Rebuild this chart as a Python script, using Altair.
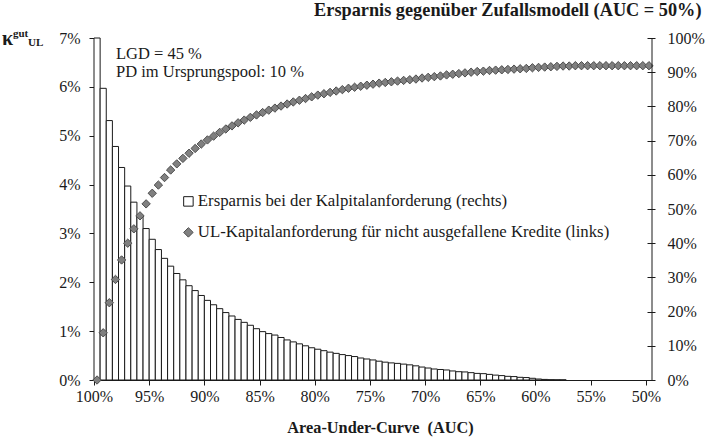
import altair as alt
import pandas as pd

# ---------------- data ----------------
x_tick_values = [100, 95, 90, 85, 80, 75, 70, 65, 60, 55, 50]
left_tick_values = [0, 1, 2, 3, 4, 5, 6, 7]
right_tick_values = [0, 10, 20, 30, 40, 50, 60, 70, 80, 90, 100]

n_categories = 91          # category slots on the AUC axis (100% .. 50%)
step = 5 / 9               # AUC width of one category slot

# bars: kappa_UL (left axis, in %)
kappa = [7.00, 5.97, 5.31, 4.78, 4.35, 3.97, 3.64, 3.36, 3.10, 2.88,
         2.67, 2.49, 2.33, 2.18, 2.05, 1.93, 1.83, 1.73, 1.63, 1.54,
         1.46, 1.38, 1.31, 1.24, 1.18, 1.12, 1.05, 0.99, 0.95, 0.92,
         0.87, 0.82, 0.78, 0.74, 0.70, 0.66, 0.63, 0.60, 0.57, 0.545,
         0.52, 0.50, 0.48, 0.45, 0.43, 0.41, 0.385, 0.365, 0.35, 0.34,
         0.325, 0.31, 0.29, 0.265, 0.245, 0.225, 0.215, 0.205, 0.185, 0.17,
         0.165, 0.15, 0.135, 0.13, 0.115, 0.10, 0.09, 0.075, 0.07, 0.055,
         0.05, 0.035, 0.02, 0.012, 0.006, 0.004, 0.003]

# diamonds: savings vs random model (right axis, in %)
ersparnis = [0.0, 13.8, 22.6, 29.4, 35.1, 40.0, 44.2, 48.0, 51.5, 54.6,
             57.0, 59.2, 61.4, 63.2, 64.8, 66.3, 67.7, 69.0, 70.2, 71.3,
             72.4, 73.4, 74.3, 75.2, 76.0, 76.8, 77.5, 78.2, 78.9, 79.5,
             80.1, 80.7, 81.3, 81.8, 82.3, 82.8, 83.3, 83.7, 84.1, 84.5,
             84.9, 85.3, 85.6, 85.9, 86.2, 86.5, 86.8, 87.0, 87.2, 87.4,
             87.6, 87.8, 88.0, 88.3, 88.5, 88.7, 88.9, 89.2, 89.4, 89.6,
             89.8, 90.0, 90.2, 90.3, 90.5, 90.6, 90.7, 90.8, 90.9, 91.0,
             91.1, 91.3, 91.4, 91.5, 91.6, 91.7, 91.8, 91.8, 91.9, 91.9,
             91.9, 91.9, 91.9, 91.9, 91.9, 91.9, 91.9, 91.9, 91.9, 91.9, 91.9]

name_sq = "Ersparnis bei der Kalpitalanforderung (rechts)"
name_di = "UL-Kapitalanforderung für nicht ausgefallene Kredite (links)"
series_names = [name_sq, name_di]

annot_lines = ["LGD = 45 %", "PD im Ursprungspool: 10 %"]

# ---------------- tables ----------------
bars_df = pd.DataFrame({
    "x0": [100 - k * step for k in range(len(kappa))],
    "x1": [100 - (k + 1) * step for k in range(len(kappa))],
    "kappa": kappa,
    "base": 0.0,
    "series": name_sq,
})
pts_df = pd.DataFrame({
    "auc": [100 - (k + 0.5) * step for k in range(len(ersparnis))],
    "value": ersparnis,
    "series": name_di,
})

W, H = 558, 342
FONT = "Liberation Serif"
INK = "#1a1a1a"

xscale = alt.Scale(domain=[100, 100 - n_categories * step], nice=False, zero=False)

fill_scale = alt.Scale(domain=series_names, range=["white", "#808080"])
stroke_scale = alt.Scale(domain=series_names, range=[INK, "#4d4d4d"])
shape_scale = alt.Scale(domain=series_names, range=["square", "diamond"])

legend = alt.Legend(
    title=None, orient="none", legendX=86, legendY=155,
    labelFont=FONT, labelFontSize=16.8, labelColor=INK, labelLimit=0,
    symbolSize=90, symbolStrokeWidth=1, rowPadding=13, labelOffset=1, padding=0,
)

x_axis = alt.Axis(
    values=x_tick_values, labelExpr="datum.value + '%'", tickSize=5,
    labelPadding=3, title="Area-Under-Curve\u00a0 (AUC)", titleFont=FONT,
    titleFontWeight="bold", titleFontSize=16.3, titleColor=INK,
    titleBaseline="alphabetic", titleY=52, titleX=W / 2 + 7, labelFlush=False,
)

bars = alt.Chart(bars_df).mark_rect(strokeWidth=1).encode(
    x=alt.X("x0:Q", scale=xscale, axis=x_axis),
    x2="x1:Q",
    y=alt.Y("kappa:Q", scale=alt.Scale(domain=[0, 7], nice=False),
            axis=alt.Axis(values=left_tick_values, labelExpr="datum.value + '%'",
                          tickSize=5, labelPadding=9, title=None, orient="left")),
    y2="base:Q",
    fill=alt.Fill("series:N", scale=fill_scale, legend=legend),
    stroke=alt.Stroke("series:N", scale=stroke_scale, legend=legend),
)

points = alt.Chart(pts_df).mark_point(filled=True, size=70, opacity=1, strokeWidth=1).encode(
    x=alt.X("auc:Q", scale=xscale),
    y=alt.Y("value:Q", scale=alt.Scale(domain=[0, 100], nice=False),
            axis=alt.Axis(values=right_tick_values, labelExpr="datum.value + '%'",
                          orient="right", tickSize=8, offset=-5, domain=False,
                          labelPadding=12,
                          title="Ersparnis gegenüber Zufallsmodell (AUC = 50%)",
                          titleFont=FONT, titleFontWeight="bold", titleFontSize=18.3,
                          titleColor=INK, titleAngle=0, titleAlign="right",
                          titleBaseline="alphabetic", titleX=54, titleY=-23)),
    shape=alt.Shape("series:N", scale=shape_scale, legend=legend),
    fill=alt.Fill("series:N", scale=fill_scale, legend=legend),
    stroke=alt.Stroke("series:N", scale=stroke_scale, legend=legend),
)

right_line = alt.Chart(pd.DataFrame({"v": [0]})).mark_rule(color=INK, strokeWidth=1).encode(
    x=alt.value(W), y=alt.value(0), y2=alt.value(H)
)

def label(txt, x, y, size, bold=False):
    return alt.Chart(pd.DataFrame({"t": [txt]})).mark_text(
        align="left", baseline="alphabetic", font=FONT, fontSize=size,
        fontWeight="bold" if bold else "normal", color=INK,
    ).encode(text="t:N", x=alt.value(x), y=alt.value(y))

kappa_sym = label("κ", -92, 7, 20, True)
kappa_sup = label("gut", -81, -1.5, 11, True)
kappa_sub = label("UL", -66, 8, 11, True)
annot1 = label(annot_lines[0], 22, 20.5, 16.5)
annot2 = label(annot_lines[1], 22, 39, 16.5)

chart = alt.layer(
    bars, points, right_line, kappa_sym, kappa_sup, kappa_sub, annot1, annot2
).resolve_scale(y="independent").properties(
    width=W, height=H,
    autosize=alt.AutoSizeParams(type="none"),
    padding={"left": 94, "top": 38, "right": 54, "bottom": 58},
).configure_axis(
    labelFont=FONT, labelFontSize=16, labelColor=INK,
    domainColor=INK, tickColor=INK, grid=False,
).configure_view(stroke=None)

chart.save("out.html", embed_options={"renderer": "svg", "actions": False})
